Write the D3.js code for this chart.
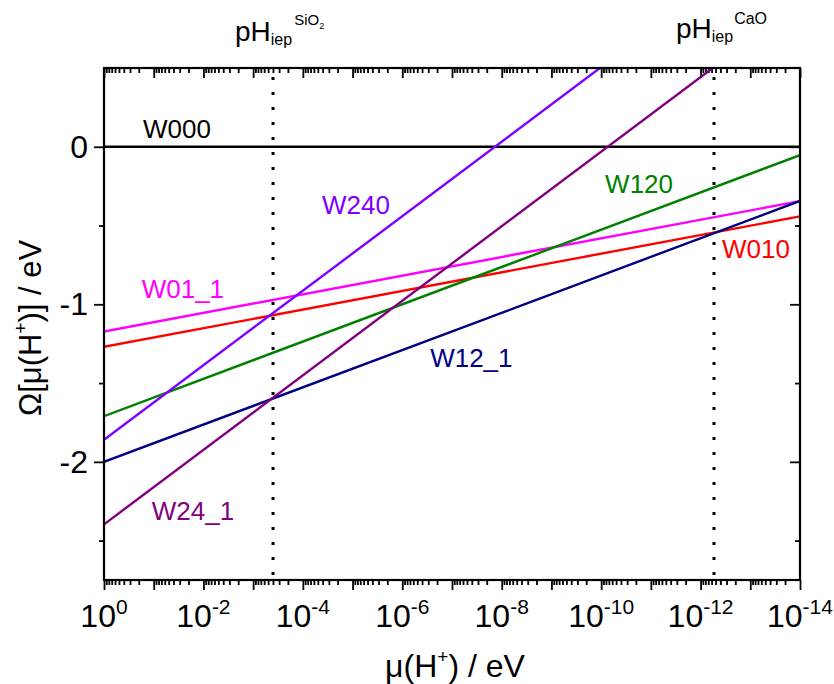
<!DOCTYPE html>
<html>
<head>
<meta charset="utf-8">
<script src="https://cdn.jsdelivr.net/npm/d3@7"></script>
<style>
  html, body { margin: 0; padding: 0; background: #fff; }
  svg { display: block; }
  text { font-family: "Liberation Sans", Arial, sans-serif; fill: #000; }
</style>
</head>
<body>
<svg id="chart" width="834" height="684"></svg>
<script>
// Surface grand potential of each water configuration versus the proton chemical potential.
// Each configuration is a straight line on the log axis, given by its values at both ends.
const muEnds = [1, 1e-14];
const seriesNames = ["W000", "W01_1", "W010", "W120", "W12_1", "W240", "W24_1"];
const omegaAtStart = [0, -1.173, -1.270, -1.710, -2.000, -1.860, -2.397];
const omegaAtEnd = [0, -0.345, -0.442, -0.053, -0.344, 1.452, 0.915];
const seriesColors = ["#000000", "#ff00ff", "#ff0000", "#008000", "#000080", "#8000ff", "#800080"];

// Axis ticks
const xTickExponents = [0, -2, -4, -6, -8, -10, -12, -14];
const yTickValues = [0, -1, -2];
const yMinorTicks = [-0.5, -1.5, -2.5];

// Isoelectric points of the two oxides
const iepOxides = ["SiO2", "CaO"];
const iepMu = [Math.pow(10, -3.4), Math.pow(10, -12.27)];

const W = 834, H = 684;
const margin = { left: 104, right: 34, top: 68, bottom: 104 };
const iw = W - margin.left - margin.right;
const ih = H - margin.top - margin.bottom;

const svg = d3.select("#chart");
const g = svg.append("g").attr("transform", `translate(${margin.left},${margin.top})`);

const x = d3.scaleLog().domain([1, 1e-14]).range([0, iw]);
const y = d3.scaleLinear().domain([-2.75, 0.5]).range([ih, 0]);

// clip region for the series lines
svg.append("defs").append("clipPath").attr("id", "plotClip")
  .append("rect").attr("x", 0).attr("y", 0).attr("width", iw).attr("height", ih);

// minor log ticks: 2..9 within every decade
const majorTicks = d3.range(0, -15, -1).map(e => Math.pow(10, e));
const minorTicks = [];
for (let e = 0; e > -14; e--) {
  for (let k = 2; k <= 9; k++) minorTicks.push(k * Math.pow(10, e - 1));
}

const tickFont = 32;

// bottom axis, ticks pointing outward
g.append("g").attr("transform", `translate(0,${ih})`)
  .call(d3.axisBottom(x).tickValues(minorTicks).tickSize(5).tickFormat(""));
g.append("g").attr("transform", `translate(0,${ih})`)
  .call(d3.axisBottom(x).tickValues(majorTicks).tickSize(10).tickFormat(""));

// top mirror, ticks pointing inward
g.append("g").call(d3.axisBottom(x).tickValues(minorTicks).tickSize(5).tickFormat(""));
g.append("g").call(d3.axisBottom(x).tickValues(majorTicks).tickSize(10).tickFormat(""));

// left axis, outward ticks
const gy = g.append("g").call(d3.axisLeft(y).tickValues(yTickValues).tickSize(10).tickPadding(6).tickFormat(d => String(d)));
g.append("g").call(d3.axisLeft(y).tickValues(yMinorTicks).tickSize(5).tickFormat(""));
// right mirror, inward ticks
g.append("g").attr("transform", `translate(${iw},0)`).call(d3.axisLeft(y).tickValues(yTickValues).tickSize(10).tickFormat(""));
g.append("g").attr("transform", `translate(${iw},0)`).call(d3.axisLeft(y).tickValues(yMinorTicks).tickSize(5).tickFormat(""));

g.selectAll(".domain").remove();
g.selectAll(".tick line").attr("stroke", "#000").attr("stroke-width", 1.8);

gy.selectAll(".tick text").attr("font-size", tickFont).attr("font-family", "Liberation Sans, Arial, sans-serif").attr("fill", "#000");

// x tick labels as 10^n
const xLabelGroup = g.append("g").attr("transform", `translate(0,${ih})`);
xTickExponents.forEach(e => {
  const t = xLabelGroup.append("text")
    .attr("x", x(Math.pow(10, e)))
    .attr("y", 47)
    .attr("text-anchor", "middle")
    .attr("font-size", tickFont);
  t.append("tspan").text("10");
  t.append("tspan").attr("dy", -13).attr("font-size", 21).text(e === 0 ? "0" : "-" + Math.abs(e));
});

// series lines
const lineGen = d3.line().x(d => x(d[0])).y(d => y(d[1]));
const linesG = g.append("g").attr("clip-path", "url(#plotClip)");
seriesNames.forEach((name, i) => {
  const pts = [[muEnds[0], omegaAtStart[i]], [muEnds[1], omegaAtEnd[i]]];
  linesG.append("path")
    .attr("d", lineGen(pts))
    .attr("fill", "none")
    .attr("stroke", seriesColors[i])
    .attr("stroke-width", 2.4);
});

// dotted isoelectric point markers
iepMu.forEach(m => {
  g.append("line")
    .attr("x1", x(m)).attr("x2", x(m))
    .attr("y1", 9).attr("y2", ih)
    .attr("stroke", "#000")
    .attr("stroke-width", 3)
    .attr("stroke-dasharray", "3 12");
});

// frame
g.append("rect").attr("x", 0).attr("y", 0).attr("width", iw).attr("height", ih)
  .attr("fill", "none").attr("stroke", "#000").attr("stroke-width", 2.2);

// iep labels above the plot
const iepLabelBaseline = [41, 38];
iepOxides.forEach((ox, i) => {
  const t = svg.append("text")
    .attr("x", margin.left + x(iepMu[i]) - 38)
    .attr("y", iepLabelBaseline[i])
    .attr("font-size", 28);
  t.append("tspan").text("pH");
  t.append("tspan").attr("font-size", 16).attr("dy", 4).text("iep");
  if (ox === "SiO2") {
    t.append("tspan").attr("font-size", 15).attr("dy", -20).attr("dx", 2).text("SiO");
    t.append("tspan").attr("font-size", 9).attr("dy", 4).text("2");
  } else {
    t.append("tspan").attr("font-size", 16).attr("dy", -18).attr("dx", 1).text("CaO");
  }
});

// series labels, anchored in data space
const labelAnchorsMu = [Math.pow(10, -0.785), Math.pow(10, -0.758), Math.pow(10, -12.43), Math.pow(10, -10.08), Math.pow(10, -6.56), Math.pow(10, -4.385), Math.pow(10, -0.96)];
const labelAnchorsOmega = [0.057, -0.962, -0.706, -0.292, -1.401, -0.425, -2.367];
seriesNames.forEach((name, i) => {
  g.append("text")
    .attr("x", x(labelAnchorsMu[i]))
    .attr("y", y(labelAnchorsOmega[i]))
    .attr("font-size", 26)
    .style("fill", seriesColors[i])
    .text(name);
});

// axis titles
const xt = svg.append("text")
  .attr("x", margin.left + iw / 2 + 3)
  .attr("y", 677)
  .attr("text-anchor", "middle")
  .attr("font-size", 32);
xt.append("tspan").text("\u03bc(H");
xt.append("tspan").attr("font-size", 19).attr("dy", -14).text("+");
xt.append("tspan").attr("dy", 14).text(") / eV");

const yt = svg.append("text")
  .attr("transform", `translate(41,${margin.top + y(-1.15)}) rotate(-90)`)
  .attr("text-anchor", "middle")
  .attr("font-size", 31);
yt.append("tspan").text("\u03a9[\u03bc(H");
yt.append("tspan").attr("font-size", 19).attr("dy", -14).text("+");
yt.append("tspan").attr("dy", 14).text(")] / eV");
</script>
</body>
</html>
